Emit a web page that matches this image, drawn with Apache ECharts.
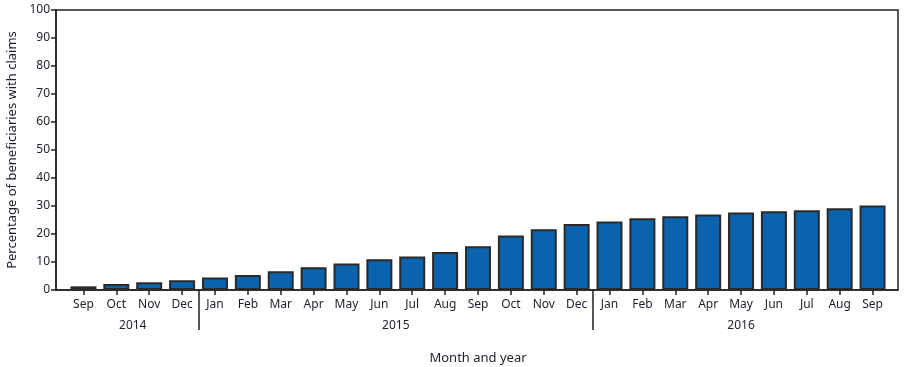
<!DOCTYPE html>
<html>
<head>
<meta charset="utf-8">
<script src="https://cdn.jsdelivr.net/npm/echarts@6/dist/echarts.min.js"></script>
<style>html,body{margin:0;padding:0;background:#fff}#c{width:907px;height:367px}</style>
</head>
<body>
<div id="c"></div>
<script>
var months = ['Sep','Oct','Nov','Dec','Jan','Feb','Mar','Apr','May','Jun','Jul','Aug','Sep','Oct','Nov','Dec','Jan','Feb','Mar','Apr','May','Jun','Jul','Aug','Sep'];
var values = [1.3,2.1,2.8,3.5,4.5,5.4,6.7,8.1,9.5,11.0,12.0,13.6,15.6,19.5,21.7,23.6,24.5,25.6,26.3,27.0,27.7,28.1,28.5,29.2,30.2];
var years = ['2014','2015','2016'];
var yearSpans = [4,12,9];
var yTicks = [0,10,20,30,40,50,60,70,80,90,100];

var bounds = [], centers = [], acc = 0;
for (var i = 0; i < yearSpans.length; i++) {
  centers.push(acc + yearSpans[i] / 2);
  acc += yearSpans[i];
  if (i < yearSpans.length - 1) bounds.push(acc);
}
var font = 'Noto Sans';
var txt = '#1e1e2e';
var chart = echarts.init(document.getElementById('c'));
chart.setOption({
  animation: false,
  textStyle: {fontFamily: font},
  grid: [
    {left: 56, right: 9, top: 10, bottom: 77, show: true, borderColor: '#222', borderWidth: 1.5, backgroundColor: 'transparent', containLabel: false, outerBoundsMode: 'none'},
    {left: 67, right: 18, top: 10, bottom: 77, containLabel: false, outerBoundsMode: 'none'}
  ],
  xAxis: [
    {gridIndex: 0, type: 'value', min: 0, max: 1, axisLine: {show: true, lineStyle: {color: '#222', width: 1.5}}, axisTick: {show: false}, axisLabel: {show: false}, splitLine: {show: false}},
    {gridIndex: 1, type: 'category', data: months, position: 'bottom',
     axisLine: {show: false},
     axisTick: {show: true, alignWithLabel: true, length: 5, lineStyle: {color: '#222', width: 1.5}},
     axisLabel: {color: txt, fontSize: 12, fontFamily: font, margin: 9, interval: 0}},
    {gridIndex: 1, type: 'value', min: 0, max: months.length, position: 'bottom',
     name: 'Month and year', nameLocation: 'middle', nameGap: 62,
     nameTextStyle: {color: txt, fontSize: 13, fontFamily: font},
     axisLine: {show: false}, splitLine: {show: false},
     axisTick: {show: true, customValues: bounds, length: 40, lineStyle: {color: '#222', width: 1.5}},
     axisLabel: {customValues: centers, color: txt, fontSize: 12, fontFamily: font, margin: 30,
       formatter: function (v) { var k = centers.indexOf(v); return k >= 0 ? years[k] : ''; }}}
  ],
  yAxis: [
    {gridIndex: 0, type: 'value', min: yTicks[0], max: yTicks[yTicks.length - 1], interval: 10,
     name: 'Percentage of beneficiaries with claims', nameLocation: 'middle', nameGap: 36,
     nameTextStyle: {color: txt, fontSize: 13, fontFamily: font},
     axisLine: {show: true, lineStyle: {color: '#222', width: 1.5}},
     axisTick: {show: true, length: 5, lineStyle: {color: '#222', width: 1.5}},
     axisLabel: {color: txt, fontSize: 12, fontFamily: font, margin: 6},
     splitLine: {show: false}},
    {gridIndex: 1, type: 'value', min: 0, max: 100, show: false, splitLine: {show: false}}
  ],
  series: [{
    type: 'bar', xAxisIndex: 1, yAxisIndex: 1, data: values,
    barWidth: 26,
    itemStyle: {color: '#0b62ad', borderColor: '#2a2a2a', borderWidth: 2}
  }]
});
</script>
</body>
</html>
